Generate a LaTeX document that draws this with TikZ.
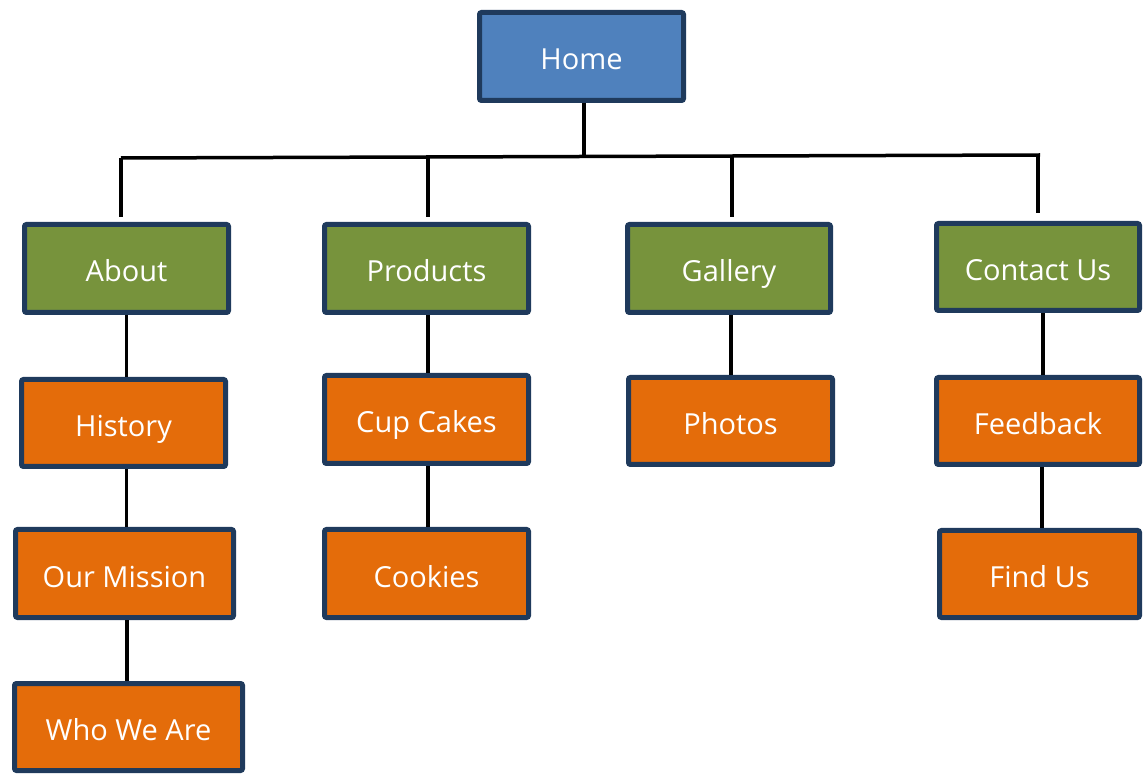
\documentclass[tikz,border=0pt]{standalone}
\usepackage{fontspec}
\setmainfont{Open Sans}
\definecolor{homeblue}{HTML}{4F81BD}
\definecolor{secgreen}{HTML}{77933C}
\definecolor{suborange}{HTML}{E46C0A}
\definecolor{edgenavy}{HTML}{1F3A5C}
\tikzset{
  pagebox/.style={draw=edgenavy, line width=5pt, rounded corners=2pt, text=white,
    font=\fontsize{29}{34}\selectfont, inner sep=0pt, text height=27pt, text depth=0pt,
    minimum width=204pt, minimum height=88pt},
  homebox/.style={pagebox, fill=homeblue},
  secbox/.style={pagebox, fill=secgreen},
  subbox/.style={pagebox, fill=suborange},
  link/.style={draw=black, line width=3.5pt}
}
\begin{document}
\begin{tikzpicture}[x=1pt,y=-1pt]
\useasboundingbox (0,0) rectangle (1144,775);
\node[homebox] (home) at (581.5,56.5) {Home};
\node[secbox] (about) at (126.5,268.5) {About};
\node[secbox] (products) at (426.5,268.5) {Products};
\node[secbox, minimum width=203pt] (gallery) at (729,268.5) {Gallery};
\node[secbox, minimum width=203pt, minimum height=87pt] (contact) at (1038,267) {Contact Us};
\node[subbox, minimum height=87pt] (history) at (123.5,423) {History};
\node[subbox] (cupcakes) at (426.5,419.5) {Cup Cakes};
\node[subbox, minimum height=87pt] (photos) at (730.5,421) {Photos};
\node[subbox, minimum width=203pt, minimum height=87pt] (feedback) at (1038,421) {Feedback};
\node[subbox, minimum width=218pt] (mission) at (124.5,573.5) {Our Mission};
\node[subbox] (cookies) at (426.5,573.5) {Cookies};
\node[subbox, minimum width=200pt, minimum height=87pt] (findus) at (1039.5,574) {Find Us};
\node[subbox, minimum width=228pt, minimum height=87pt] (whoweare) at (128.5,727) {Who We Are};
% bus
\coordinate (busL) at (121,158);
\coordinate (busR) at (1040,155);
\coordinate (busH) at (584,156.5);
\coordinate (busP) at (428,157.5);
\coordinate (busG) at (732,156.5);
\coordinate (busC) at (1038,155);
\coordinate (dropA) at (121,217);
\coordinate (dropP) at (428,217);
\coordinate (dropG) at (732,217);
\coordinate (dropC) at (1038,213);
\draw[link] (busL) -- (busR);
\draw[link] (home.south -| busH) -- (busH);
\draw[link] (busL) -- (dropA);
\draw[link] (busP) -- (dropP);
\draw[link] (busG) -- (dropG);
\draw[link] (busC) -- (dropC);
% children
\draw[link] (about.south) -- (about.south |- history.north);
\draw[link] (about.south |- history.south) -- (about.south |- mission.north);
\draw[link] ([xshift=2.5pt]mission.south) -- ([xshift=2.5pt]mission.south |- whoweare.north);
\draw[link] ([xshift=1.5pt]products.south) -- ([xshift=1.5pt]products.south |- cupcakes.north);
\draw[link] ([xshift=1.5pt]cupcakes.south) -- ([xshift=1.5pt]cupcakes.south |- cookies.north);
\draw[link] ([xshift=2pt]gallery.south) -- ([xshift=2pt]gallery.south |- photos.north);
\draw[link] ([xshift=5pt]contact.south) -- ([xshift=5pt]contact.south |- feedback.north);
\draw[link] ([xshift=4pt]feedback.south) -- ([xshift=4pt]feedback.south |- findus.north);
\end{tikzpicture}
\end{document}
